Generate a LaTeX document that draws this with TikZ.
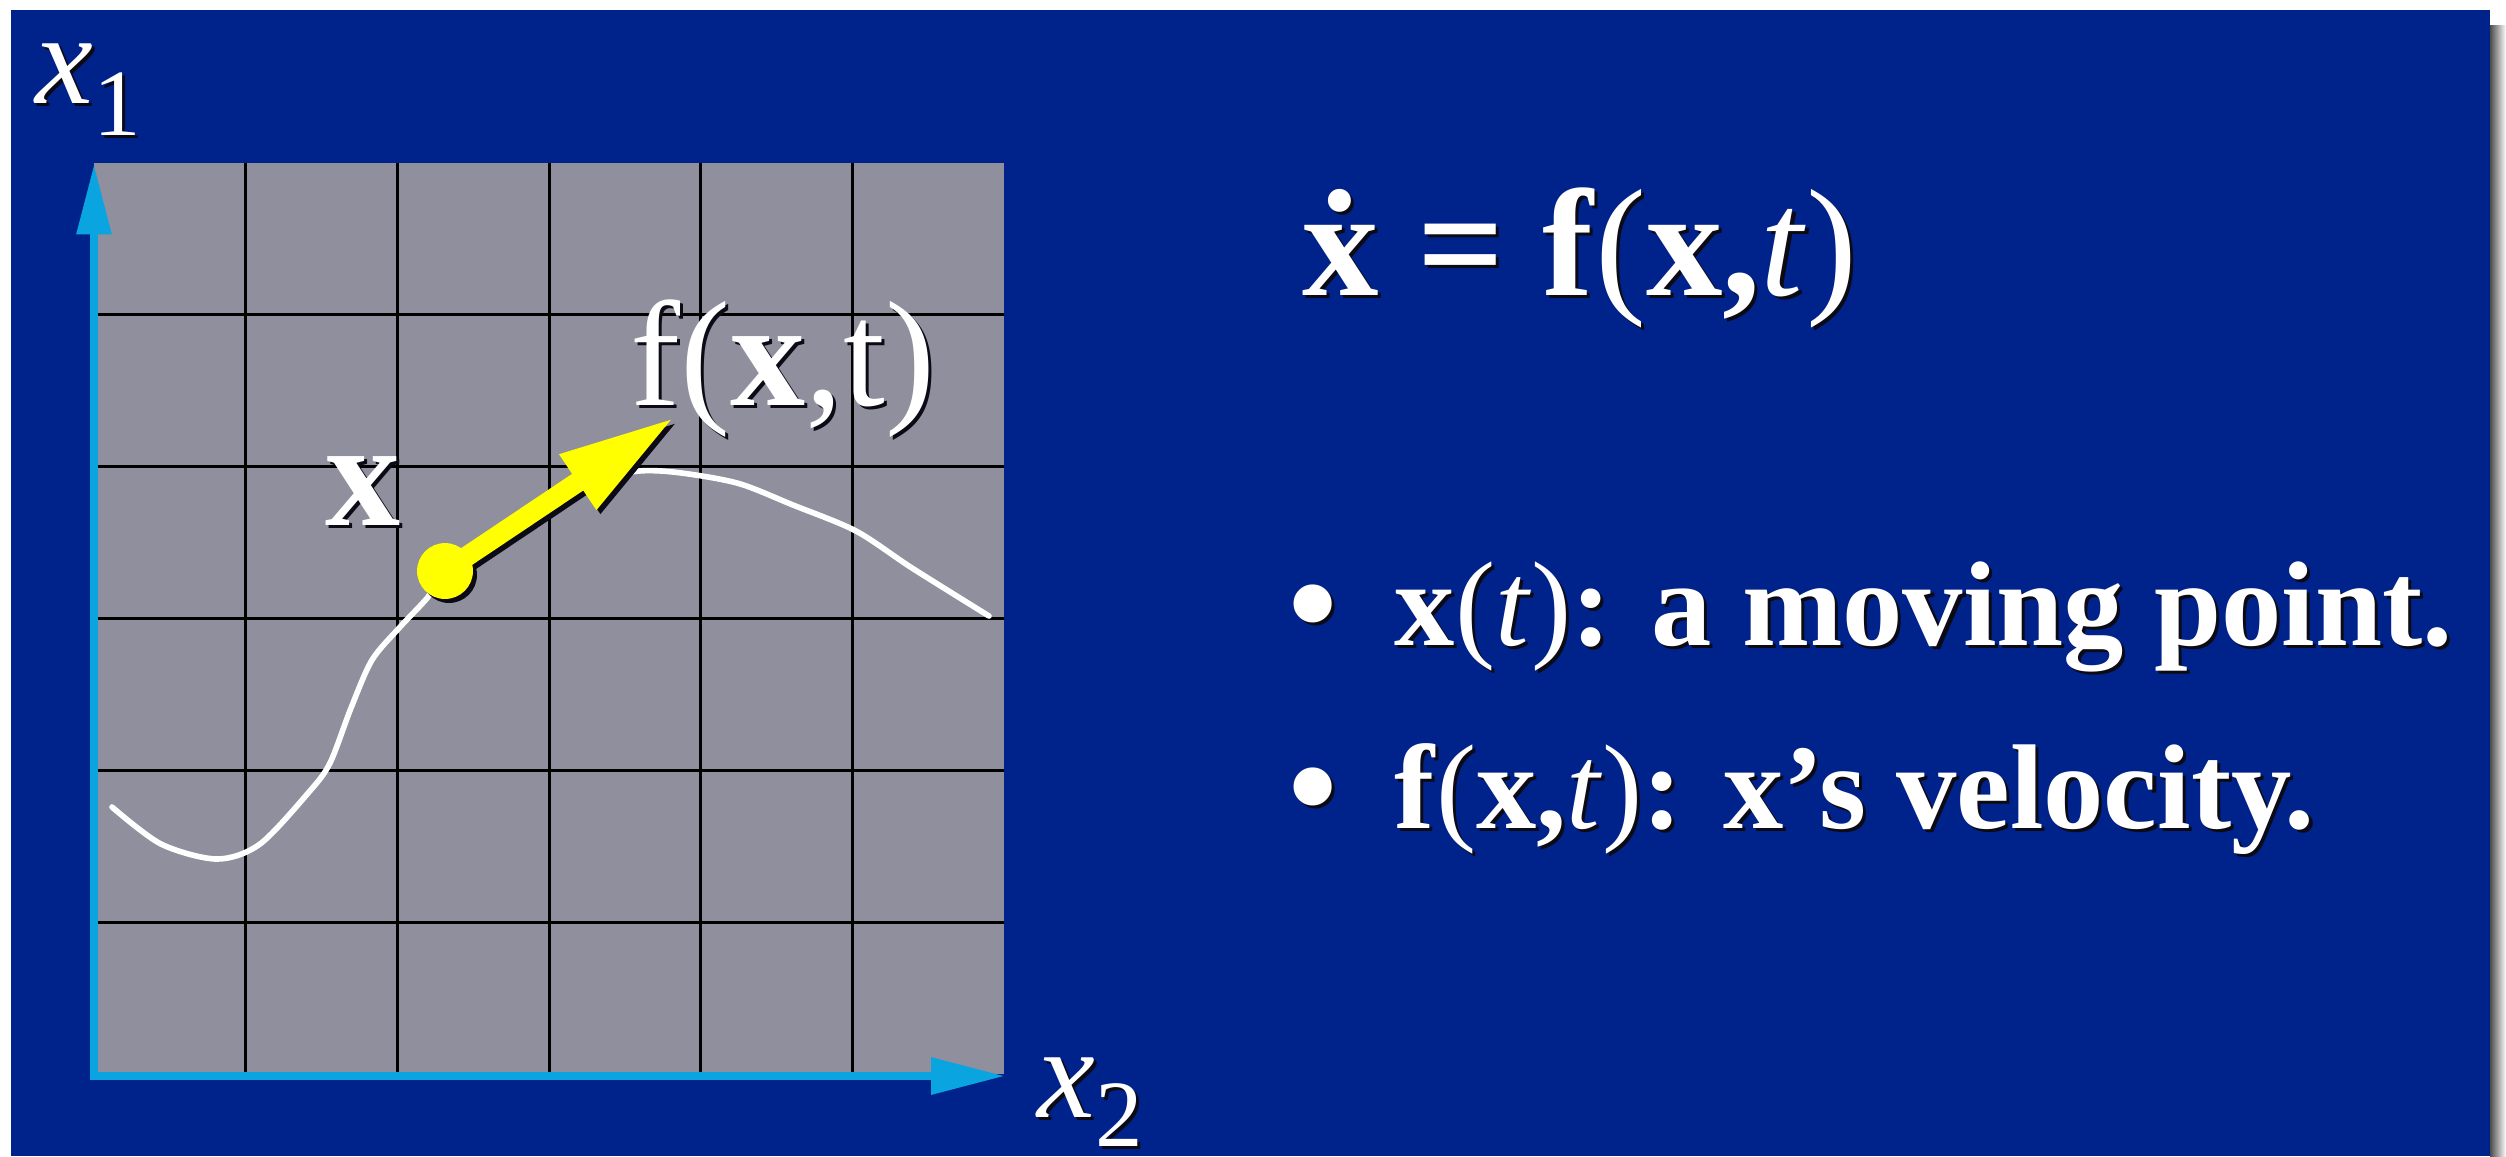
\documentclass[tikz,border=0pt]{standalone}
\usepackage{fontspec}
\setmainfont{Liberation Serif}
\usetikzlibrary{arrows.meta,calc}
\definecolor{bgblue}{RGB}{0,34,139}
\definecolor{gridgray}{RGB}{144,143,157}
\definecolor{axiscyan}{RGB}{10,165,225}
\definecolor{ptyellow}{RGB}{255,255,0}
\definecolor{shadowc}{RGB}{12,10,20}
\newcommand\shd[1]{\leavevmode\rlap{\kern0.9pt\raisebox{-0.9pt}{\color{shadowc}#1}}#1}
\newcommand\eqsize{\fontsize{43.5pt}{50pt}\selectfont}
\newcommand\lblsize{\fontsize{42.7pt}{50pt}\selectfont}
\newcommand\bulsize{\fontsize{34.3pt}{40pt}\selectfont}
\newcommand\dotsize{\fontsize{40pt}{44pt}\selectfont}
\newcommand\axsize{\fontsize{37pt}{42pt}\selectfont}
\newcommand\subsize{\fontsize{27pt}{30pt}\selectfont}
\begin{document}
\begin{tikzpicture}[x=0.01cm,y=-0.01cm,
  txt/.style={text=white, inner sep=0pt, anchor=base west},
  gridline/.style={black, line width=0.85pt},
  axisline/.style={axiscyan, line width=2.5pt},
  trajectory/.style={white, line width=1.6pt, line join=round, line cap=round},
  velarrow/.style={line width=5.7pt, -{Triangle[length=33.3pt,width=17.3pt]}}]
\useasboundingbox (0,0) rectangle (2506,1156);
\fill[white] (0,0) rectangle (2506,1156);
\shade[left color=black!70, right color=white] (2490,25) rectangle (2506,1156);
\fill[bgblue] (11,10) rectangle (2490,1156);
% grid
\fill[gridgray] (94,163) rectangle (1004,1074);
\foreach \i in {1,...,5}{
  \draw[gridline] ({94+151.67*\i},163) -- ({94+151.67*\i},1074);
  \draw[gridline] (94,{163+151.83*\i}) -- (1004,{163+151.83*\i});
}
% axes
\coordinate (O) at (94,1076);
\coordinate (ytip) at (94,164);
\coordinate (xtip) at (1005,1076);
\draw[axisline, {Triangle[length=20pt,width=9.4pt]}-{Triangle[length=21pt,width=10pt]}] (ytip) -- (O) -- (xtip);
% trajectory
\draw[trajectory] plot[smooth, tension=0.5] coordinates {(112,807) (161,844) (217,859) (260,844) (309,792) (330,763) (351,708) (372,660) (400,627) (428,597) (445,571) (520,521) (580,488) (631,472) (673,472) (737,483) (793,505) (856,531) (912,568) (989,616)};
% moving point and velocity
\coordinate (P) at (445,571);
\coordinate (tip) at (675,417);
\draw[velarrow, shadowc] ($(P)+(4,4)$) -- ($(tip)+(4,4)$);
\fill[shadowc] ($(P)+(4,4)$) circle (7.95pt);
\draw[velarrow, ptyellow] (P) -- (tip);
\node[circle, fill=ptyellow, minimum size=15.9pt, inner sep=0pt] (pt) at (P) {};
% labels
\node[txt, font=\axsize] (x1lab) at (35,103) {\shd{\textit{x}}\raisebox{-9.1pt}{\subsize\shd{1}}};
\node[txt, font=\axsize] (x2lab) at (1037,1117) {\shd{\textit{x}}\raisebox{-8.3pt}{\subsize\shd{2}}};
\node[txt, font=\lblsize] (xlab) at (325,525) {\shd{\textbf{x}}};
\node[txt, font=\lblsize] (flab) at (630,405) {\shd{f(\textbf{x},t)}};
% right side
\node[txt, font=\eqsize] (eq) at (1302,295) {\shd{\textbf{\.{x} = f}(\textbf{x,}\textit{t})}};
\node[txt, font=\dotsize] (b1) at (1288,650) {\shd{\textbf{•}}};
\node[txt, font=\bulsize] (t1) at (1394,645) {\shd{\textbf{x}(\textit{t})\textbf{: a moving point.}}};
\node[txt, font=\dotsize] (b2) at (1288,833) {\shd{\textbf{•}}};
\node[txt, font=\bulsize] (t2) at (1394,828) {\shd{\textbf{f}(\textbf{x,}\textit{t})\textbf{: x’s velocity.}}};
\end{tikzpicture}
\end{document}
